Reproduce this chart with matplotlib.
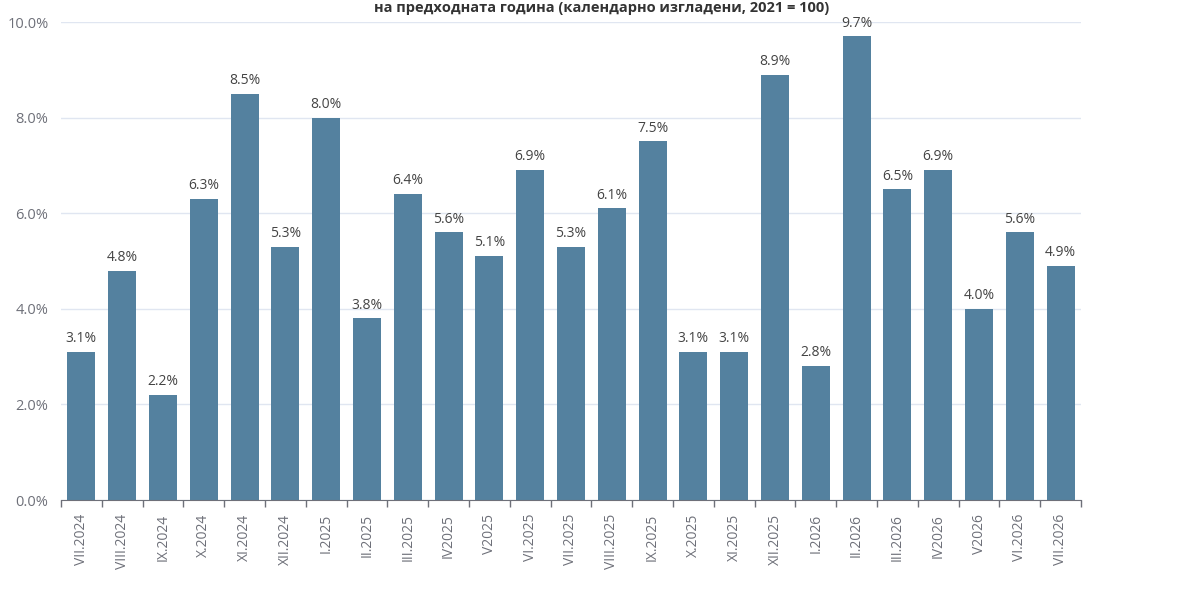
import matplotlib
matplotlib.use('Agg')
import matplotlib.pyplot as plt
from matplotlib.ticker import FuncFormatter, FixedLocator, NullFormatter
import numpy as np

# data
months = ['VII.2024', 'VIII.2024', 'IX.2024', 'X.2024', 'XI.2024', 'XII.2024',
          'I.2025', 'II.2025', 'III.2025', 'IV2025', 'V2025', 'VI.2025',
          'VII.2025', 'VIII.2025', 'IX.2025', 'X.2025', 'XI.2025', 'XII.2025',
          'I.2026', 'II.2026', 'III.2026', 'IV2026', 'V2026', 'VI.2026', 'VII.2026']
values = [3.1, 4.8, 2.2, 6.3, 8.5, 5.3, 8.0, 3.8, 6.4, 5.6, 5.1, 6.9, 5.3,
          6.1, 7.5, 3.1, 3.1, 8.9, 2.8, 9.7, 6.5, 6.9, 4.0, 5.6, 4.9]
title = 'на предходната година (календарно изгладени, 2021 = 100)'

plt.rcParams['font.family'] = ['Open Sans', 'DejaVu Sans']

fig = plt.figure(figsize=(12, 6), dpi=100)
ax = fig.add_axes([61/1200, 100/600, 1020/1200, 478/600])

x = np.arange(len(values))
bars = ax.bar(x, values, width=0.69, color='#54819f', zorder=3)
for xi, v in zip(x, values):
    ax.text(xi, v + 0.12, '%.1f%%' % v, ha='center', va='bottom',
            fontsize=10, color='#444444', zorder=4)

ax.set_xlim(-0.5, len(values) - 0.5)
ax.set_ylim(0, 10)
ax.set_yticks([0, 2, 4, 6, 8, 10])
ax.yaxis.set_major_formatter(FuncFormatter(lambda v, p: '%.1f%%' % v))
ax.tick_params(axis='y', length=0, labelsize=10.5, labelcolor='#6e7079', pad=9)
ax.grid(axis='y', color='#e0e6f1', linewidth=1, zorder=0)

# category labels at centres, ticks at boundaries
ax.set_xticks(x)
ax.set_xticklabels(months, rotation=90, fontsize=10, color='#6e7079')
ax.tick_params(axis='x', which='major', length=0, pad=10)
ax.xaxis.set_minor_locator(FixedLocator(np.arange(-0.5, len(values), 1)))
ax.xaxis.set_minor_formatter(NullFormatter())
ax.tick_params(axis='x', which='minor', length=5, color='#6e7079', width=1)

for s in ['top', 'right', 'left']:
    ax.spines[s].set_visible(False)
ax.spines['bottom'].set_color('#6e7079')
ax.spines['bottom'].set_zorder(5)

fig.text(0.501, 0.999, title, ha='center', va='top', fontsize=10.5,
         fontweight='bold', color='#333333')

fig.savefig('out.png', dpi=100)
